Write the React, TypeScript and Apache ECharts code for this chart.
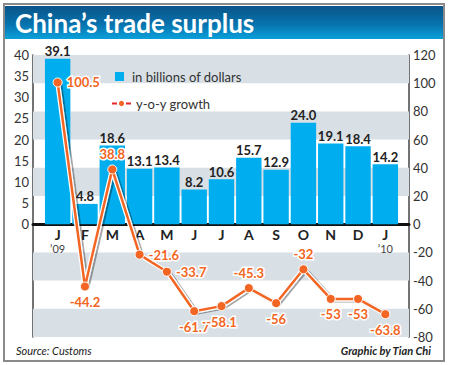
import React, { useEffect, useRef } from 'react';
import * as echarts from 'echarts';

const months = ['J', 'F', 'M', 'A', 'M', 'J', 'J', 'A', 'S', 'O', 'N', 'D', 'J'];
const yearTags = ['’09', '', '', '', '', '', '', '', '', '', '', '', '’10'];
const surplus = [39.1, 4.8, 18.6, 13.1, 13.4, 8.2, 10.6, 15.7, 12.9, 24.0, 19.1, 18.4, 14.2];
const growth = [100.5, -44.2, 38.8, -21.6, -33.7, -61.7, -58.1, -45.3, -56, -32, -53, -53, -63.8];
const growthLabelPos = ['right', 'bottom', 'top', 'right', 'right', 'bottom', 'bottom', 'top', 'bottom', 'top', 'bottom', 'bottom', 'bottom'];
const leftTicks = [0, 5, 10, 15, 20, 25, 30, 35, 40];
const bands = [[-80, -60], [-40, -20], [20, 40], [60, 80], [100, 120]];

const RIGHT_MIN = -80;
const RIGHT_MAX = 120;
const LEFT_MAX = 40;
const LEFT_MIN = (RIGHT_MIN * LEFT_MAX) / RIGHT_MAX;

const FONT = 'Lato, "Open Sans", sans-serif';
const GRID_TOP = 55;
const GRID_H = 282;

export default function App() {
  const ref = useRef<HTMLDivElement>(null);
  useEffect(() => {
    document.body.style.margin = '0';
    const chart = echarts.init(ref.current!, null, { renderer: 'svg' });
    const axisLbl = { color: '#333', fontSize: 13, fontFamily: FONT, margin: 4 };
    const zeroOffset = -GRID_H * (0 - RIGHT_MIN) / (RIGHT_MAX - RIGHT_MIN);
    chart.setOption({
      animation: false,
      textStyle: { fontFamily: FONT },
      grid: [
        { left: 33, width: 376, top: GRID_TOP, height: GRID_H },
        { left: 44, width: 355, top: GRID_TOP, height: GRID_H },
      ],
      legend: [
        {
          data: ['in billions of dollars'],
          left: 110, top: 65, itemWidth: 9, itemHeight: 9, icon: 'rect',
          textStyle: { color: '#333', fontSize: 13, fontFamily: FONT, padding: [0, 0, 0, 3] },
          selectedMode: false,
        },
        {
          data: [{ name: 'y-o-y growth', lineStyle: { type: 'dashed', color: '#e8262a', width: 2 } }],
          left: 106, top: 92, itemWidth: 19, itemHeight: 9,
          textStyle: { color: '#333', fontSize: 13, fontFamily: FONT },
          selectedMode: false,
        },
      ],
      xAxis: [
        {
          gridIndex: 0, type: 'value', min: 0, max: 1,
          axisLine: { show: true, onZero: true, lineStyle: { color: '#111', width: 3 } },
          axisTick: { show: false }, axisLabel: { show: false }, splitLine: { show: false },
        },
        {
          gridIndex: 1, type: 'category', data: months, position: 'bottom', offset: zeroOffset, z: 3,
          axisLine: { show: false, onZero: false }, axisTick: { show: false },
          axisLabel: {
            margin: 3, interval: 0,
            formatter: (v: string, i: number) => (yearTags[i] ? `{m|${v}}\n{y|${yearTags[i]}}` : `{m|${v}}`),
            rich: {
              m: { fontSize: 14, fontWeight: 'bold', color: '#222', fontFamily: FONT, lineHeight: 15 },
              y: { fontSize: 11, color: '#444', fontFamily: FONT, lineHeight: 13 },
            },
          },
        },
      ],
      yAxis: [
        {
          gridIndex: 0, type: 'value', position: 'left', min: LEFT_MIN, max: LEFT_MAX,
          axisLine: { show: true, lineStyle: { color: '#444', width: 1.5 } },
          axisTick: { show: false }, splitLine: { show: false },
          axisLabel: { ...axisLbl, customValues: leftTicks },
        },
        {
          gridIndex: 0, type: 'value', position: 'right', min: RIGHT_MIN, max: RIGHT_MAX, interval: 20,
          axisLine: { show: true, lineStyle: { color: '#444', width: 1.5 } },
          axisTick: { show: false }, splitLine: { show: false },
          axisLabel: axisLbl,
        },
        {
          gridIndex: 1, type: 'value', min: LEFT_MIN, max: LEFT_MAX,
          axisLine: { show: false }, axisTick: { show: false }, axisLabel: { show: false }, splitLine: { show: false },
        },
        {
          gridIndex: 1, type: 'value', min: RIGHT_MIN, max: RIGHT_MAX,
          axisLine: { show: false }, axisTick: { show: false }, axisLabel: { show: false }, splitLine: { show: false },
        },
      ],
      series: [
        {
          type: 'line', xAxisIndex: 0, yAxisIndex: 1, data: [], silent: true,
          markArea: {
            silent: true,
            itemStyle: { color: '#d8e0e6' },
            data: bands.map(([a, b]) => [{ yAxis: a }, { yAxis: b }]),
          },
        },
        {
          name: 'in billions of dollars', type: 'bar', xAxisIndex: 1, yAxisIndex: 2,
          data: surplus, barWidth: '93%',
          itemStyle: { color: '#00aeef' },
          label: {
            show: true, position: 'top', distance: 1,
            formatter: (p: any) => Number(p.value).toFixed(1),
            color: '#222', fontWeight: 'bold', fontSize: 13, fontFamily: FONT,
          },
        },
        {
          type: 'line', xAxisIndex: 1, yAxisIndex: 3, data: growth, symbol: 'none', silent: true, z: 3,
          lineStyle: { color: '#fff', width: 5, shadowColor: 'rgba(0,0,0,0.35)', shadowBlur: 1, shadowOffsetX: 2, shadowOffsetY: 1 },
        },
        {
          name: 'y-o-y growth', type: 'line', xAxisIndex: 1, yAxisIndex: 3, z: 4,
          data: growth.map((v, i) => ({ value: v, label: { position: growthLabelPos[i] } })),
          symbol: 'circle', symbolSize: 9,
          lineStyle: { color: '#f26522', width: 2.5 },
          itemStyle: { color: '#f26522', borderColor: '#fff', borderWidth: 1 },
          label: {
            show: true, color: '#f26522', fontWeight: 'bold', fontSize: 13, fontFamily: FONT,
            textBorderColor: '#fff', textBorderWidth: 3, distance: 4,
          },
        },
      ],
      graphic: [
        {
          type: 'rect', z: 100, silent: true,
          shape: { x: 4, y: 4, width: 440, height: 357 },
          style: { fill: 'none', stroke: '#8a8a8a', lineWidth: 2 },
        },
        {
          type: 'rect', z: 101, silent: true,
          shape: { x: 5, y: 6, width: 438, height: 33 },
          style: {
            fill: new echarts.graphic.LinearGradient(0, 0, 0, 1, [
              { offset: 0, color: '#0a5488' },
              { offset: 0.55, color: '#0772ad' },
              { offset: 1, color: '#0aa0da' },
            ]),
          },
        },
        {
          type: 'text', z: 102, x: 15, y: 23, silent: true,
          style: { text: 'China’s trade surplus', fill: '#fff', fontSize: 26, fontWeight: 'bold', fontFamily: FONT, verticalAlign: 'middle' },
        },
        {
          type: 'text', x: 16, y: 350,
          style: { text: 'Source: Customs', fill: '#222', fontSize: 11, fontStyle: 'italic', fontFamily: FONT, verticalAlign: 'middle' },
        },
        {
          type: 'text', x: 431, y: 350,
          style: { text: 'Graphic by Tian Chi', fill: '#222', fontSize: 11, fontStyle: 'italic', fontWeight: 'bold', fontFamily: FONT, align: 'right', verticalAlign: 'middle' },
        },
      ],
    });
    return () => chart.dispose();
  }, []);
  return <div ref={ref} style={{ width: 450, height: 365 }} />;
}
